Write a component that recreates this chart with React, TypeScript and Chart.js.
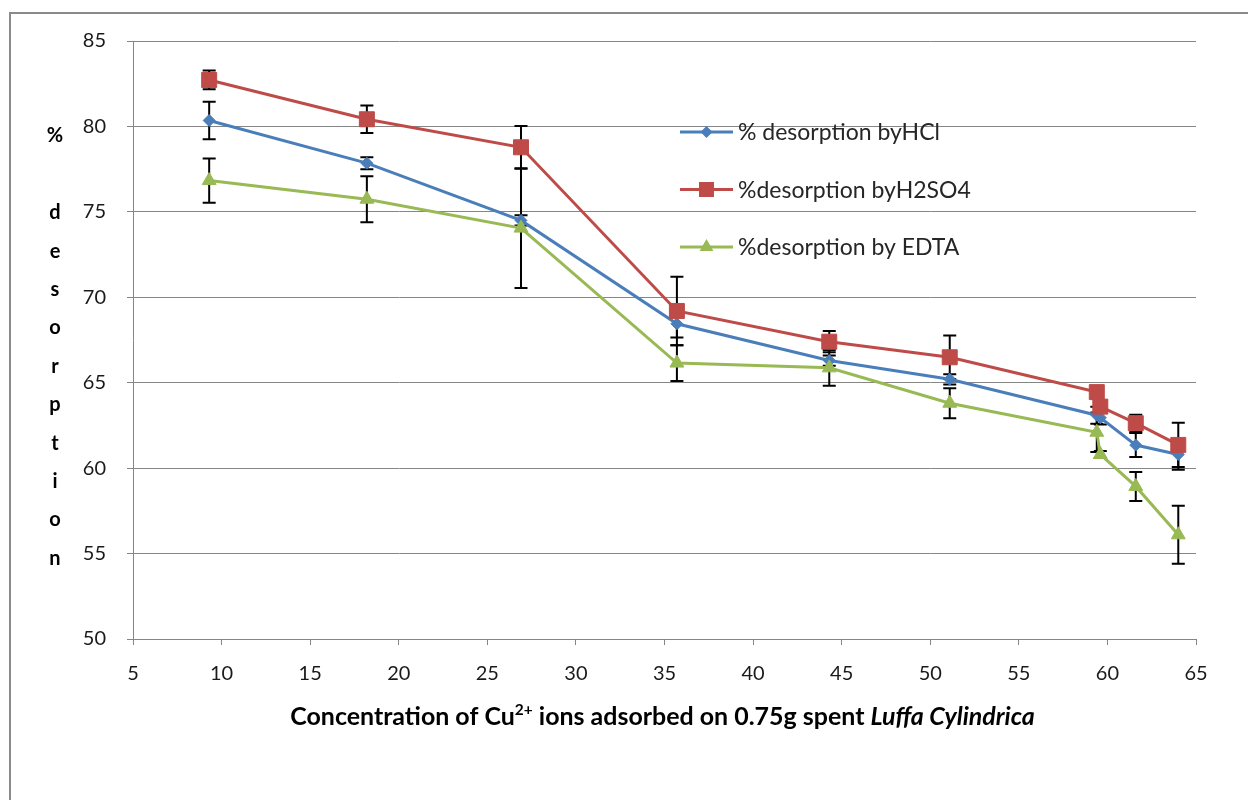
import React, { useEffect, useRef } from "react";
import { Chart, registerables } from "chart.js";

Chart.register(...registerables);

// ---------- data ----------
const xValues = [9.3, 18.2, 26.9, 35.7, 44.3, 51.1, 59.4, 59.6, 61.6, 64.0];
const hclValues = [80.35, 77.85, 74.5, 68.45, 66.3, 65.2, 63.1, 62.95, 61.35, 60.8];
const hclErrors = [1.1, 0.35, 0.3, 0.8, 0.3, 0.3, 0.5, 0.4, 0.7, 0.9];
const h2so4Values = [82.72, 80.42, 78.78, 69.2, 67.4, 66.49, 64.45, 63.6, 62.63, 61.36];
const h2so4Errors = [0.55, 0.8, 1.25, 2.0, 0.62, 1.27, 0.25, 0.3, 0.5, 1.3];
const edtaValues = [76.83, 75.74, 74.05, 66.15, 65.87, 63.8, 62.1, 60.8, 58.93, 56.1];
const edtaErrors = [1.3, 1.35, 3.5, 1.05, 1.05, 0.88, 1.15, 0.2, 0.85, 1.7];
const seriesLabels = ["% desorption byHCl", "%desorption byH2SO4", "%desorption by EDTA"];
const xAxisMin = 5;
const xAxisMax = 65;
const yAxisMin = 50;
const yAxisMax = 85;
const tickStep = 5;
const yTitleText = "% desorption";
const xTitleMain = "Concentration of Cu";
const xTitleSup = "2+";
const xTitleMid = " ions adsorbed on 0.75g spent ";
const xTitleItalic = "Luffa Cylindrica";

const FONT = "Lato, 'Open Sans', sans-serif";
const BLUE = "#4A7EBB";
const RED = "#BE4B48";
const GREEN = "#98B954";
const GRID = "#868686";

function drawMarker(ctx: CanvasRenderingContext2D, style: string, x: number, y: number, color: string) {
  ctx.save();
  ctx.fillStyle = color;
  ctx.beginPath();
  if (style === "rectRot") {
    const r = 6;
    ctx.moveTo(x, y - r);
    ctx.lineTo(x + r, y);
    ctx.lineTo(x, y + r);
    ctx.lineTo(x - r, y);
  } else if (style === "rect") {
    const s = 7.5;
    ctx.rect(x - s, y - s, 2 * s, 2 * s);
  } else {
    const r = 8;
    ctx.moveTo(x, y - r);
    ctx.lineTo(x + r * 0.866, y + r * 0.5);
    ctx.lineTo(x - r * 0.866, y + r * 0.5);
  }
  ctx.closePath();
  ctx.fill();
  ctx.restore();
}

const framePlugin = {
  id: "frame",
  beforeDraw(chart: any) {
    const ctx = chart.ctx as CanvasRenderingContext2D;
    ctx.save();
    ctx.fillStyle = "#ffffff";
    ctx.fillRect(0, 0, chart.width, chart.height);
    ctx.strokeStyle = "#8a8a8a";
    ctx.lineWidth = 2;
    ctx.beginPath();
    ctx.moveTo(10, chart.height);
    ctx.lineTo(10, 13);
    ctx.lineTo(chart.width, 13);
    ctx.stroke();
    ctx.restore();
  },
};

const errorBarPlugin = {
  id: "errorBars",
  beforeDatasetsDraw(chart: any) {
    const ctx = chart.ctx as CanvasRenderingContext2D;
    const xs = chart.scales.x;
    const ys = chart.scales.y;
    ctx.save();
    ctx.strokeStyle = "#000000";
    ctx.lineWidth = 2;
    chart.data.datasets.forEach((ds: any) => {
      const errs: number[] = ds.errors || [];
      ds.data.forEach((p: any, i: number) => {
        const e = errs[i];
        if (!e) return;
        const px = xs.getPixelForValue(p.x);
        const top = ys.getPixelForValue(p.y + e);
        const bot = ys.getPixelForValue(p.y - e);
        const cap = 6.5;
        ctx.beginPath();
        ctx.moveTo(px, top);
        ctx.lineTo(px, bot);
        ctx.moveTo(px - cap, top);
        ctx.lineTo(px + cap, top);
        ctx.moveTo(px - cap, bot);
        ctx.lineTo(px + cap, bot);
        ctx.stroke();
      });
    });
    ctx.restore();
  },
};

const textPlugin = {
  id: "texts",
  afterDraw(chart: any) {
    const ctx = chart.ctx as CanvasRenderingContext2D;
    const area = chart.chartArea;
    ctx.save();

    // legend
    const legendX = 680;
    const legendY0 = 132;
    const legendGap = 57.5;
    chart.data.datasets.forEach((ds: any, i: number) => {
      const y = legendY0 + i * legendGap;
      ctx.strokeStyle = ds.borderColor;
      ctx.lineWidth = 3;
      ctx.beginPath();
      ctx.moveTo(legendX, y);
      ctx.lineTo(legendX + 53, y);
      ctx.stroke();
      drawMarker(ctx, ds.pointStyle, legendX + 26.5, y, ds.borderColor);
      ctx.fillStyle = "#262626";
      ctx.font = `23px ${FONT}`;
      ctx.textBaseline = "middle";
      ctx.textAlign = "left";
      ctx.fillText(ds.label, legendX + 58, y + 1);
    });

    // y title (stacked letters)
    ctx.fillStyle = "#000000";
    ctx.font = `bold 20px ${FONT}`;
    ctx.textAlign = "center";
    ctx.textBaseline = "middle";
    const chars = Array.from(yTitleText);
    chars.forEach((c, i) => {
      if (c.trim() === "") return;
      ctx.fillText(c, 55, 136 + i * 38.4);
    });

    // x title with superscript and italic part
    const targetWidth = 745;
    const measure = (s: number) => {
      ctx.font = `bold ${s}px ${FONT}`;
      const a = ctx.measureText(xTitleMain).width + ctx.measureText(xTitleMid).width;
      ctx.font = `bold ${s * 0.62}px ${FONT}`;
      const b = ctx.measureText(xTitleSup).width;
      ctx.font = `italic bold ${s}px ${FONT}`;
      const c = ctx.measureText(xTitleItalic).width;
      return a + b + c;
    };
    const w0 = measure(20);
    const size = Math.min(26, 20 * (targetWidth / w0));
    const total = measure(size);
    const cx = (area.left + area.right) / 2 - 2;
    const baseY = 725;
    let x = cx - total / 2;
    ctx.textAlign = "left";
    ctx.textBaseline = "alphabetic";
    ctx.fillStyle = "#000000";
    ctx.font = `bold ${size}px ${FONT}`;
    ctx.fillText(xTitleMain, x, baseY);
    x += ctx.measureText(xTitleMain).width;
    ctx.font = `bold ${size * 0.62}px ${FONT}`;
    ctx.fillText(xTitleSup, x, baseY - size * 0.42);
    x += ctx.measureText(xTitleSup).width;
    ctx.font = `bold ${size}px ${FONT}`;
    ctx.fillText(xTitleMid, x, baseY);
    x += ctx.measureText(xTitleMid).width;
    ctx.font = `italic bold ${size}px ${FONT}`;
    ctx.fillText(xTitleItalic, x, baseY);

    ctx.restore();
  },
};

function makeDataset(label: string, values: number[], errors: number[], color: string, style: string, radius: number, order: number) {
  return {
    label,
    data: xValues.map((x, i) => ({ x, y: values[i] })),
    errors,
    borderColor: color,
    backgroundColor: color,
    pointBackgroundColor: color,
    pointBorderColor: color,
    pointStyle: style,
    pointRadius: radius,
    pointHoverRadius: radius,
    pointBorderWidth: 1,
    borderWidth: 3,
    showLine: true,
    tension: 0,
    order,
  };
}

export default function App() {
  const ref = useRef<HTMLCanvasElement>(null);

  useEffect(() => {
    if (!ref.current) return;
    const chart = new Chart(ref.current, {
      type: "scatter",
      data: {
        datasets: [
          makeDataset(seriesLabels[0], hclValues, hclErrors, BLUE, "rectRot", 6, 3),
          makeDataset(seriesLabels[1], h2so4Values, h2so4Errors, RED, "rect", 10.6, 2),
          makeDataset(seriesLabels[2], edtaValues, edtaErrors, GREEN, "triangle", 8, 1),
        ] as any,
      },
      options: {
        animation: false,
        responsive: false,
        devicePixelRatio: 1,
        layout: { padding: { top: 41, right: 52, bottom: 0, left: 0 } },
        plugins: {
          legend: { display: false },
          tooltip: { enabled: false },
        },
        scales: {
          x: {
            type: "linear",
            min: xAxisMin,
            max: xAxisMax,
            afterFit: (s: any) => {
              s.height = 161;
            },
            ticks: {
              stepSize: tickStep,
              color: "#1a1a1a",
              font: { family: FONT, size: 20 },
              padding: 17,
              maxRotation: 0,
            },
            grid: {
              drawOnChartArea: false,
              drawTicks: true,
              tickLength: 6,
              color: GRID,
              lineWidth: 1,
            },
            border: { display: true, color: GRID, width: 1 },
          },
          y: {
            type: "linear",
            min: yAxisMin,
            max: yAxisMax,
            afterFit: (s: any) => {
              s.width = 133;
            },
            ticks: {
              stepSize: tickStep,
              color: "#1a1a1a",
              font: { family: FONT, size: 20 },
              padding: 21,
            },
            grid: {
              drawTicks: true,
              tickLength: 6,
              color: GRID,
              lineWidth: 1,
            },
            border: { display: true, color: GRID, width: 1 },
          },
        },
      } as any,
      plugins: [framePlugin, errorBarPlugin, textPlugin],
    });
    return () => chart.destroy();
  }, []);

  return (
    <div style={{ position: "absolute", left: 0, top: 0, width: 1248, height: 800, background: "#ffffff" }}>
      <canvas ref={ref} width={1248} height={800} style={{ display: "block", width: 1248, height: 800 }} />
    </div>
  );
}
